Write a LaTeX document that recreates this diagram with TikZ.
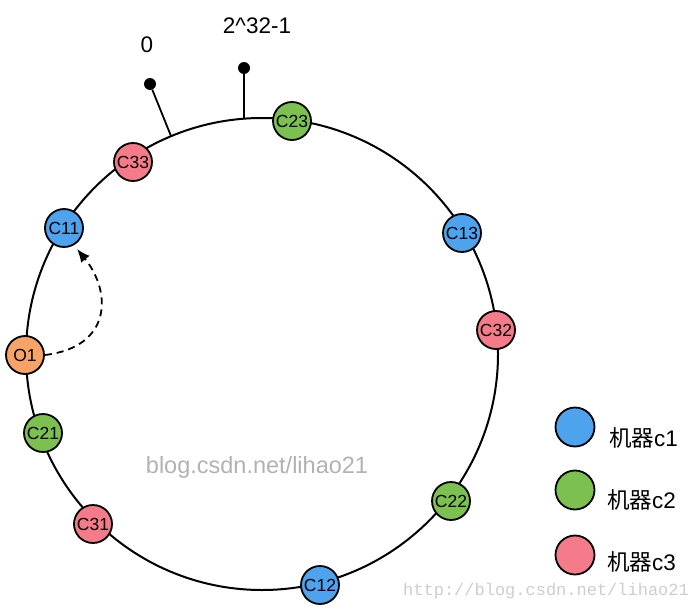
\documentclass[tikz,border=0pt]{standalone}
\usepackage{fontspec}
\setmainfont{Liberation Sans}
\setmonofont{Liberation Mono}
\newfontfamily\cjk{Noto Sans CJK SC}
\usetikzlibrary{arrows.meta}
\definecolor{cblue}{RGB}{77,163,238}
\definecolor{cgreen}{RGB}{124,193,80}
\definecolor{cpink}{RGB}{245,123,139}
\definecolor{corange}{RGB}{247,162,102}
\definecolor{wmgray}{RGB}{178,178,178}
\definecolor{wmlight}{RGB}{205,205,205}
\tikzset{
  ring/.style={line width=2pt},
  srv/.style={circle, draw=black, line width=1.8pt, minimum size=38pt, inner sep=0pt,
              font=\fontsize{17.5}{17.5}\selectfont},
  leg/.style={circle, draw=black, line width=1.8pt, minimum size=39pt, inner sep=0pt},
  legtxt/.style={anchor=west, font=\fontsize{22.5}{22.5}\selectfont, inner sep=0pt},
  pin/.style={line width=1.8pt},
  dotnode/.style={circle, fill=black, minimum size=12pt, inner sep=0pt},
  lbl/.style={font=\fontsize{22.5}{22.5}\selectfont, inner sep=0pt},
}
\begin{document}
\begin{tikzpicture}[x=1pt,y=-1pt]
\useasboundingbox (0,0) rectangle (696,610);
% watermark
\node[text=wmgray, font=\fontsize{23.5}{23.5}\selectfont] (wm) at (257,467) {blog.csdn.net/lihao21};
\node[text=wmlight, font=\ttfamily\fontsize{17}{17}\selectfont, anchor=west, inner sep=0pt] (wm2) at (403,591) {http://blog.csdn.net/lihao21};
% ring
\coordinate (ctr) at (262,354);
\draw[ring] (ctr) circle[radius=236];
% pins
\coordinate (p0) at (171,136);
\coordinate (pm) at (244,118);
\node[dotnode] (d0) at (150,84) {};
\node[dotnode] (dm) at (244,68) {};
\draw[pin] (p0) -- (d0);
\draw[pin] (pm) -- (dm);
\node[lbl] (l0) at (147,45) {0};
\node[lbl] (lm) at (257,26) {2\^{}32-1};
% servers
\node[srv, fill=cpink]   (C33) at (133,162) {C33};
\node[srv, fill=cblue]   (C11) at (64,228)  {C11};
\node[srv, fill=corange] (O1)  at (25,355)  {O1};
\node[srv, fill=cgreen]  (C21) at (43,433)  {C21};
\node[srv, fill=cpink]   (C31) at (93,524)  {C31};
\node[srv, fill=cblue]   (C12) at (320,585) {C12};
\node[srv, fill=cgreen]  (C22) at (451,501) {C22};
\node[srv, fill=cpink]   (C32) at (496,330) {C32};
\node[srv, fill=cblue]   (C13) at (462,233) {C13};
\node[srv, fill=cgreen]  (C23) at (292,121) {C23};
% dashed arrow
\draw[line width=1.8pt, dash pattern=on 7pt off 5pt, -{Latex[length=13pt,width=11pt]}, shorten >=5pt]
  (O1.east) .. controls (112,347) and (112,292) .. (C11.-60);
% legend
\node[leg, fill=cblue]  (k1) at (575,427) {};
\node[leg, fill=cgreen] (k2) at (575,490) {};
\node[leg, fill=cpink]  (k3) at (575,555) {};
\node[legtxt] (t1) at (609,438) {{\cjk 机器}c1};
\node[legtxt] (t2) at (607,500) {{\cjk 机器}c2};
\node[legtxt] (t3) at (607,562) {{\cjk 机器}c3};
\end{tikzpicture}
\end{document}
